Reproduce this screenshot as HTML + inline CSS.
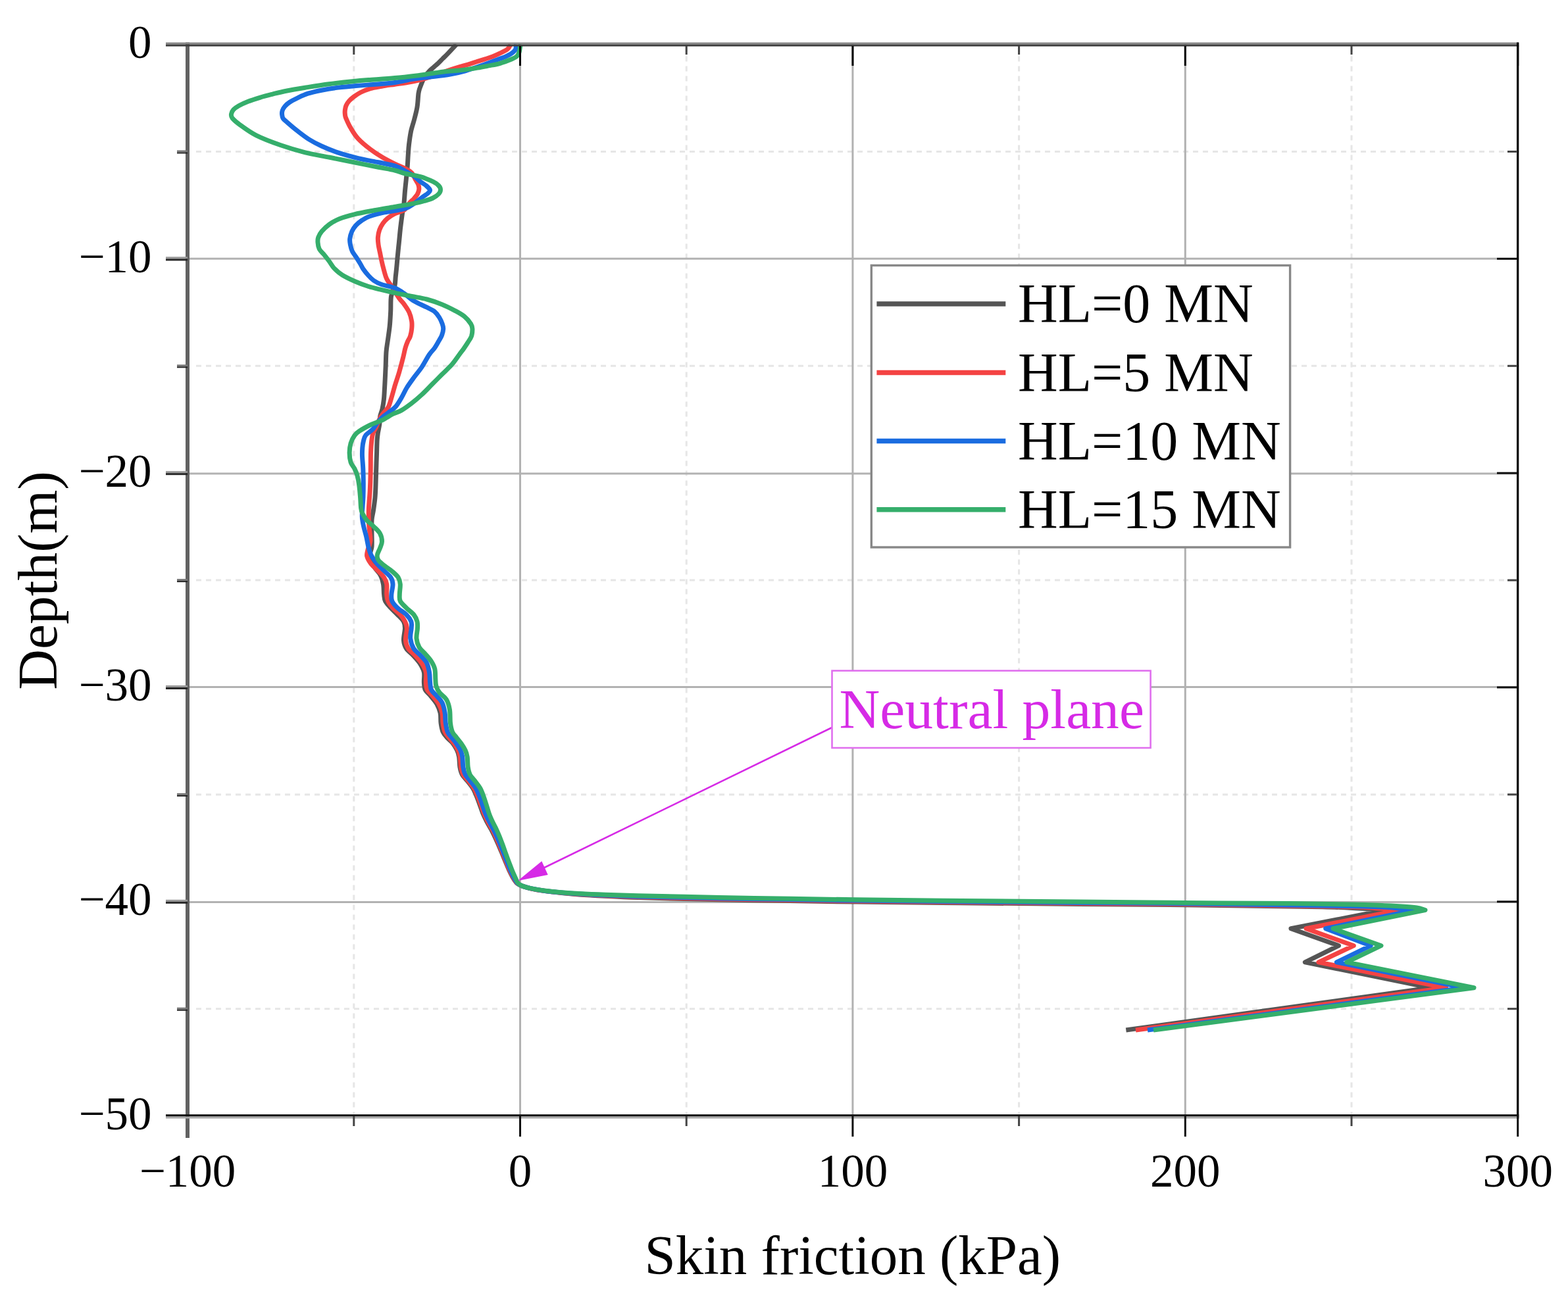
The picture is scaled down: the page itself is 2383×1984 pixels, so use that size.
<!DOCTYPE html>
<html><head><meta charset="utf-8"><title>Skin friction vs depth</title>
<style>html,body{margin:0;padding:0;background:#fff;}svg{display:block;}</style>
</head><body>
<svg width="2383" height="1984" viewBox="0 0 2383 1984">
<rect width="2383" height="1984" fill="#ffffff"/>
<line x1="537.8" y1="70.6" x2="537.8" y2="1693.5" stroke="#e6e6e6" stroke-width="3" stroke-dasharray="8 7"/>
<line x1="1043.2" y1="70.6" x2="1043.2" y2="1693.5" stroke="#e6e6e6" stroke-width="3" stroke-dasharray="8 7"/>
<line x1="1548.6" y1="70.6" x2="1548.6" y2="1693.5" stroke="#e6e6e6" stroke-width="3" stroke-dasharray="8 7"/>
<line x1="2054.0" y1="70.6" x2="2054.0" y2="1693.5" stroke="#e6e6e6" stroke-width="3" stroke-dasharray="8 7"/>
<line x1="298.0" y1="230.5" x2="2303.7" y2="230.5" stroke="#e6e6e6" stroke-width="3" stroke-dasharray="8 7"/>
<line x1="298.0" y1="556.3" x2="2303.7" y2="556.3" stroke="#e6e6e6" stroke-width="3" stroke-dasharray="8 7"/>
<line x1="298.0" y1="882.1" x2="2303.7" y2="882.1" stroke="#e6e6e6" stroke-width="3" stroke-dasharray="8 7"/>
<line x1="298.0" y1="1207.9" x2="2303.7" y2="1207.9" stroke="#e6e6e6" stroke-width="3" stroke-dasharray="8 7"/>
<line x1="298.0" y1="1533.7" x2="2303.7" y2="1533.7" stroke="#e6e6e6" stroke-width="3" stroke-dasharray="8 7"/>
<line x1="790.5" y1="67.6" x2="790.5" y2="1696.5" stroke="#b2b2b2" stroke-width="3"/>
<line x1="1295.9" y1="67.6" x2="1295.9" y2="1696.5" stroke="#b2b2b2" stroke-width="3"/>
<line x1="1801.3" y1="67.6" x2="1801.3" y2="1696.5" stroke="#b2b2b2" stroke-width="3"/>
<line x1="285.0" y1="393.3" x2="2306.7" y2="393.3" stroke="#b2b2b2" stroke-width="3"/>
<line x1="285.0" y1="720.0" x2="2306.7" y2="720.0" stroke="#b2b2b2" stroke-width="3"/>
<line x1="285.0" y1="1044.6" x2="2306.7" y2="1044.6" stroke="#b2b2b2" stroke-width="3"/>
<line x1="285.0" y1="1371.5" x2="2306.7" y2="1371.5" stroke="#b2b2b2" stroke-width="3"/>
<path d="M693.5,67.6 C691.2,70.1 683.0,79.0 679.5,82.6 C676.0,86.2 674.9,87.1 672.6,89.4 C670.3,91.7 668.0,94.2 665.7,96.3 C663.4,98.4 661.0,100.4 658.9,102.3 C656.8,104.2 654.8,105.8 652.9,107.7 C651.0,109.7 649.1,111.9 647.5,114.0 C645.9,116.1 644.7,118.2 643.5,120.5 C642.3,122.8 641.4,125.2 640.5,127.5 C639.6,129.8 638.8,131.6 638.0,134.0 C637.2,136.4 636.7,137.2 636.0,142.0 C635.3,146.8 635.1,156.2 634.0,162.9 C632.9,169.6 631.1,175.8 629.5,182.0 C627.9,188.2 625.8,193.7 624.5,200.0 C623.2,206.3 622.2,214.2 621.5,220.0 C620.8,225.8 620.7,229.4 620.3,235.0 C619.9,240.6 619.6,247.7 619.2,253.3 C618.8,258.9 618.3,262.2 617.7,268.6 C617.1,275.0 616.0,284.5 615.4,291.4 C614.8,298.2 614.5,304.4 613.9,309.7 C613.3,314.9 612.6,316.9 611.7,322.9 C610.8,328.9 609.6,338.1 608.7,345.7 C607.8,353.3 607.2,361.0 606.4,368.6 C605.6,376.2 604.7,384.8 604.1,391.4 C603.5,398.0 603.1,403.4 602.6,408.2 C602.1,413.0 601.8,415.5 601.3,420.0 C600.8,424.5 600.9,430.1 599.8,435.2 C598.7,440.3 595.5,444.1 594.5,450.5 C593.5,456.9 594.1,465.7 593.7,473.3 C593.3,480.9 593.0,488.6 592.2,496.2 C591.4,503.8 590.0,512.5 589.1,519.0 C588.2,525.5 587.5,528.5 587.0,535.0 C586.5,541.5 586.5,549.2 586.1,558.1 C585.7,567.0 585.1,580.4 584.6,588.6 C584.1,596.8 584.0,601.6 583.4,607.1 C582.8,612.6 582.0,617.1 581.1,621.4 C580.2,625.7 578.4,629.0 577.7,632.9 C577.0,636.8 577.4,640.7 576.8,645.0 C576.2,649.3 574.9,654.4 574.3,658.6 C573.7,662.8 573.4,664.8 573.1,670.0 C572.8,675.2 572.7,683.7 572.5,690.0 C572.3,696.3 572.1,700.0 571.9,707.8 C571.6,715.6 571.3,728.8 571.0,736.9 C570.7,745.0 570.6,749.9 570.0,756.4 C569.4,762.9 568.3,770.1 567.5,775.8 C566.7,781.5 565.4,784.5 565.0,790.4 C564.6,796.2 565.0,804.0 565.0,810.9 C565.0,817.8 565.6,825.5 565.0,831.5 C564.4,837.5 560.8,841.9 561.5,847.0 C562.2,852.1 566.3,857.8 569.1,862.4 C571.9,867.0 576.2,870.5 578.4,874.8 C580.6,879.1 581.6,883.4 582.5,888.2 C583.4,893.0 583.1,899.3 583.6,903.6 C584.1,907.9 583.9,910.5 585.6,913.9 C587.3,917.3 590.8,920.8 593.9,924.2 C597.0,927.6 601.0,931.1 604.2,934.5 C607.5,937.9 611.5,941.4 613.4,944.8 C615.3,948.2 615.5,950.2 615.5,955.0 C615.5,959.8 613.1,968.5 613.5,973.7 C613.9,978.9 615.2,982.3 617.6,986.1 C620.0,989.9 624.5,992.6 627.9,996.4 C631.3,1000.2 635.5,1004.4 638.2,1008.7 C641.0,1013.0 643.4,1017.3 644.4,1022.1 C645.4,1026.9 644.1,1033.1 644.4,1037.6 C644.7,1042.1 644.7,1045.5 646.4,1048.9 C648.1,1052.3 651.8,1054.6 654.7,1058.2 C657.6,1061.8 661.6,1066.2 664.0,1070.5 C666.4,1074.8 668.1,1079.1 669.1,1083.9 C670.1,1088.7 669.4,1094.6 670.1,1099.4 C670.8,1104.2 671.6,1109.0 673.2,1112.8 C674.9,1116.6 677.5,1119.1 680.0,1122.0 C682.5,1124.9 686.0,1127.2 688.4,1130.3 C690.8,1133.4 693.0,1137.2 694.6,1140.6 C696.2,1144.0 697.0,1146.6 697.7,1150.9 C698.4,1155.2 698.2,1161.9 699.0,1166.4 C699.8,1170.9 700.6,1174.3 702.5,1177.7 C704.4,1181.1 707.4,1183.6 710.1,1187.0 C712.8,1190.4 716.3,1194.4 718.7,1198.3 C721.1,1202.2 722.7,1206.5 724.4,1210.6 C726.1,1214.7 727.4,1218.7 729.0,1223.0 C730.6,1227.3 732.0,1232.1 733.8,1236.4 C735.6,1240.7 737.6,1244.7 739.7,1248.8 C741.8,1252.9 744.6,1257.4 746.6,1261.1 C748.5,1264.8 749.8,1267.3 751.5,1271.0 C753.3,1274.7 755.2,1279.0 757.1,1283.3 C758.9,1287.6 760.9,1292.2 762.8,1296.7 C764.6,1301.2 766.4,1305.6 768.2,1310.0 C770.1,1314.4 772.1,1319.3 773.9,1323.3 C775.8,1327.3 777.9,1331.4 779.3,1334.0 C780.8,1336.6 781.6,1337.6 782.6,1339.0 C783.6,1340.4 784.3,1341.5 785.5,1342.6 C786.7,1343.7 788.2,1344.6 789.9,1345.4 C791.5,1346.2 792.7,1346.7 795.5,1347.6 C798.3,1348.5 801.5,1349.7 806.7,1350.8 C811.9,1352.0 818.9,1353.3 826.7,1354.4 C834.5,1355.6 844.4,1356.7 853.3,1357.6 C862.2,1358.5 868.9,1359.1 880.0,1359.9 C891.1,1360.7 905.0,1361.5 920.0,1362.3 C935.0,1363.1 950.0,1363.9 970.0,1364.6 C990.0,1365.3 1015.0,1366.0 1040.0,1366.6 C1065.0,1367.2 1093.3,1367.7 1120.0,1368.2 C1146.7,1368.7 1170.0,1369.1 1200.0,1369.6 C1230.0,1370.1 1256.7,1370.6 1300.0,1371.1 C1343.3,1371.6 1403.3,1372.2 1460.0,1372.8 C1516.7,1373.3 1583.3,1373.9 1640.0,1374.4 C1696.7,1374.9 1738.3,1375.1 1800.0,1375.8 C1861.7,1376.5 1966.7,1378.0 2010.0,1378.8 C2053.3,1379.6 2046.7,1380.2 2060.0,1380.8 C2073.3,1381.4 2082.5,1382.1 2090.0,1382.6 C2097.5,1383.1 2102.5,1383.4 2105.0,1383.6 L1962.0,1411.8 L2034.5,1437.7 L1983.4,1462.9 L2174.7,1501.7 L1711.3,1566.0" fill="none" stroke="#555555" stroke-width="7.0" stroke-linejoin="round" stroke-linecap="butt"/>
<path d="M776.0,67.6 C775.2,68.8 774.1,72.4 771.4,74.6 C768.7,76.8 763.8,79.0 760.0,80.9 C756.2,82.8 752.4,84.5 748.6,86.0 C744.8,87.5 740.9,88.6 737.1,89.8 C733.3,91.0 729.5,92.2 725.7,93.4 C721.9,94.6 718.9,95.7 714.3,97.1 C709.6,98.5 702.8,100.3 697.8,101.8 C692.8,103.3 688.9,104.5 684.3,106.0 C679.7,107.5 674.9,109.2 670.0,111.0 C665.1,112.8 660.3,114.8 655.0,116.5 C649.7,118.2 644.1,120.0 638.3,121.5 C632.5,123.0 626.4,124.1 620.0,125.2 C613.6,126.3 606.7,127.2 600.0,128.2 C593.3,129.2 586.2,130.1 580.0,131.2 C573.8,132.3 568.2,133.0 562.9,134.6 C557.6,136.2 552.1,138.4 548.0,140.5 C543.9,142.6 540.9,144.7 538.0,146.9 C535.1,149.1 532.5,151.2 530.5,153.5 C528.5,155.8 527.0,158.2 526.0,160.5 C525.0,162.8 524.7,164.8 524.4,167.0 C524.1,169.2 524.1,171.8 524.4,174.0 C524.6,176.2 524.4,176.5 525.9,180.0 C527.4,183.5 530.0,189.7 533.1,194.8 C536.2,200.0 539.3,205.5 544.3,210.9 C549.3,216.3 556.7,222.3 562.9,227.0 C569.1,231.7 575.2,235.6 581.4,239.3 C587.6,243.0 594.2,246.3 600.0,249.2 C605.8,252.0 611.9,254.1 616.2,256.4 C620.5,258.7 623.5,260.2 626.0,263.0 C628.5,265.8 629.8,270.3 631.4,273.1 C633.0,275.9 634.6,277.6 635.5,280.0 C636.4,282.4 637.0,285.1 636.8,287.6 C636.6,290.1 635.8,292.6 634.5,295.0 C633.2,297.4 631.1,299.7 629.0,302.0 C626.9,304.3 624.4,306.2 622.0,309.0 C619.6,311.8 618.5,316.3 614.8,319.0 C611.0,321.7 603.8,322.9 599.5,325.1 C595.2,327.3 591.8,329.6 588.9,332.0 C586.0,334.4 584.0,336.7 582.0,339.6 C580.0,342.5 578.0,345.9 576.7,349.5 C575.4,353.1 574.7,357.2 574.4,361.0 C574.1,364.8 574.6,368.6 575.1,372.4 C575.6,376.2 576.6,380.0 577.4,383.8 C578.2,387.6 578.8,391.1 579.7,395.2 C580.6,399.3 581.5,403.4 582.8,408.2 C584.1,413.0 585.5,419.3 587.6,423.8 C589.7,428.3 592.0,430.2 595.2,435.2 C598.4,440.1 603.5,448.9 606.7,453.5 C609.9,458.1 611.8,459.1 614.3,462.7 C616.8,466.3 620.0,470.6 621.9,474.9 C623.8,479.2 625.1,484.4 625.7,488.6 C626.3,492.8 626.1,496.2 625.7,500.0 C625.3,503.8 624.4,508.2 623.4,511.4 C622.4,514.6 620.9,516.0 619.6,519.0 C618.3,522.0 616.9,525.7 615.8,529.7 C614.7,533.7 614.3,536.9 612.8,542.9 C611.3,548.9 608.7,558.7 606.7,565.7 C604.7,572.7 602.5,578.4 600.6,584.8 C598.7,591.1 596.9,598.2 595.2,603.8 C593.5,609.4 592.3,614.7 590.3,618.6 C588.3,622.5 585.3,624.6 583.4,627.1 C581.5,629.6 580.4,630.9 578.9,633.4 C577.4,635.9 575.8,639.2 574.5,642.0 C573.2,644.8 572.7,647.2 571.4,650.0 C570.1,652.8 568.0,655.3 566.9,658.6 C565.8,661.9 565.4,665.0 564.8,670.0 C564.2,675.0 563.8,680.4 563.5,688.3 C563.2,696.2 563.4,707.8 563.2,717.5 C563.0,727.2 562.7,737.0 562.2,746.7 C561.7,756.4 560.5,766.8 560.3,775.8 C560.1,784.8 560.4,793.0 560.9,800.6 C561.4,808.2 563.4,815.2 563.0,821.2 C562.6,827.2 559.7,832.6 558.8,836.7 C557.9,840.8 556.9,842.5 557.8,845.9 C558.7,849.3 561.2,853.7 564.0,857.3 C566.8,860.9 571.0,864.2 574.3,867.6 C577.6,871.0 581.4,874.5 583.6,877.9 C585.8,881.3 587.0,883.9 587.7,888.2 C588.4,892.5 587.4,899.3 587.7,903.6 C588.0,907.9 588.2,910.5 589.7,913.9 C591.2,917.3 593.9,920.8 597.0,924.2 C600.1,927.6 605.2,931.1 608.3,934.5 C611.4,937.9 613.8,941.4 615.5,944.8 C617.2,948.2 618.3,950.2 618.5,955.0 C618.7,959.8 616.1,968.5 616.5,973.7 C616.9,978.9 618.2,982.3 620.6,986.1 C623.0,989.9 627.5,992.6 630.9,996.4 C634.3,1000.2 638.5,1004.4 641.2,1008.7 C644.0,1013.0 646.4,1017.3 647.4,1022.1 C648.4,1026.9 647.1,1033.1 647.4,1037.6 C647.7,1042.1 647.7,1045.5 649.4,1048.9 C651.1,1052.3 654.8,1054.6 657.7,1058.2 C660.6,1061.8 664.6,1066.2 667.0,1070.5 C669.4,1074.8 671.1,1079.1 672.1,1083.9 C673.1,1088.7 672.4,1094.6 673.1,1099.4 C673.8,1104.2 674.6,1109.0 676.2,1112.8 C677.9,1116.6 680.7,1119.1 683.0,1122.0 C685.3,1124.9 687.7,1127.2 689.9,1130.3 C692.1,1133.4 694.5,1137.2 696.1,1140.6 C697.7,1144.0 698.5,1146.6 699.2,1150.9 C699.9,1155.2 699.7,1161.9 700.5,1166.4 C701.3,1170.9 702.1,1174.3 704.0,1177.7 C705.9,1181.1 708.9,1183.6 711.6,1187.0 C714.3,1190.4 717.8,1194.4 720.2,1198.3 C722.6,1202.2 724.2,1206.5 725.9,1210.6 C727.6,1214.7 728.9,1218.7 730.5,1223.0 C732.1,1227.3 733.5,1232.1 735.3,1236.4 C737.1,1240.7 739.1,1244.7 741.2,1248.8 C743.3,1252.9 746.1,1257.4 748.1,1261.1 C750.0,1264.8 751.2,1267.3 752.9,1271.0 C754.6,1274.7 756.4,1279.0 758.3,1283.3 C760.1,1287.6 762.0,1292.2 763.8,1296.7 C765.6,1301.2 767.3,1305.6 769.1,1310.0 C770.9,1314.4 772.9,1319.3 774.7,1323.3 C776.5,1327.3 778.5,1331.4 779.9,1334.0 C781.4,1336.6 782.2,1337.6 783.2,1339.0 C784.2,1340.4 784.8,1341.5 786.0,1342.6 C787.1,1343.7 788.4,1344.6 790.0,1345.4 C791.6,1346.2 792.7,1346.7 795.5,1347.6 C798.3,1348.5 801.5,1349.7 806.7,1350.8 C811.9,1351.9 818.9,1353.2 826.7,1354.3 C834.5,1355.4 844.4,1356.4 853.3,1357.3 C862.2,1358.2 868.9,1358.8 880.0,1359.5 C891.1,1360.2 905.0,1361.0 920.0,1361.7 C935.0,1362.4 950.0,1363.1 970.0,1363.8 C990.0,1364.4 1015.0,1365.0 1040.0,1365.6 C1065.0,1366.2 1093.3,1366.7 1120.0,1367.2 C1146.7,1367.7 1170.0,1368.1 1200.0,1368.6 C1230.0,1369.1 1256.7,1369.6 1300.0,1370.1 C1343.3,1370.6 1403.3,1371.2 1460.0,1371.8 C1516.7,1372.3 1583.3,1372.9 1640.0,1373.4 C1696.7,1373.9 1733.3,1374.0 1800.0,1374.8 C1866.7,1375.6 1990.8,1377.4 2040.0,1378.4 C2089.2,1379.4 2080.5,1380.1 2095.0,1381.0 C2109.5,1381.9 2121.7,1383.2 2127.0,1383.6 L1985.0,1411.8 L2057.3,1437.7 L2004.0,1462.9 L2197.5,1501.7 L1726.0,1566.0" fill="none" stroke="#f44343" stroke-width="7.0" stroke-linejoin="round" stroke-linecap="butt"/>
<path d="M784.6,67.6 C784.4,68.9 784.5,73.2 783.3,75.5 C782.0,77.8 779.5,79.7 777.1,81.4 C774.7,83.2 771.9,84.5 768.6,86.0 C765.3,87.5 762.7,88.2 757.1,90.3 C751.5,92.4 743.3,95.6 735.0,98.5 C726.7,101.4 715.6,105.4 707.1,107.8 C698.6,110.2 693.2,111.4 684.0,113.0 C674.8,114.6 661.5,116.0 652.0,117.2 C642.5,118.4 635.8,118.9 627.1,120.3 C618.4,121.7 609.5,124.2 600.0,125.5 C590.5,126.8 580.3,127.3 570.0,128.2 C559.7,129.1 548.0,129.9 538.0,130.8 C528.0,131.7 518.2,132.5 510.0,133.6 C501.8,134.7 495.6,135.8 488.6,137.2 C481.6,138.6 474.2,140.2 468.0,142.2 C461.8,144.2 456.1,147.1 451.4,149.3 C446.7,151.5 443.1,153.4 440.0,155.5 C436.9,157.6 434.7,159.6 432.9,161.7 C431.1,163.8 429.9,165.9 429.2,168.0 C428.5,170.1 428.4,172.0 428.6,174.0 C428.8,176.0 428.9,178.2 430.2,180.2 C431.5,182.2 433.1,183.0 436.6,186.1 C440.1,189.2 445.8,194.2 451.4,198.5 C457.0,202.8 463.8,208.2 470.0,212.1 C476.2,216.0 481.4,218.7 488.6,222.0 C495.8,225.3 504.0,228.8 513.3,231.9 C522.6,235.0 534.0,238.1 544.3,240.6 C554.6,243.1 565.9,244.9 575.2,246.8 C584.5,248.7 593.4,250.1 600.0,252.2 C606.6,254.3 610.3,257.0 615.0,259.5 C619.7,262.0 624.0,264.2 628.0,267.0 C632.0,269.8 635.7,273.6 639.0,276.2 C642.3,278.8 645.6,280.4 648.0,282.5 C650.4,284.6 653.2,287.1 653.5,289.1 C653.8,291.1 651.3,292.9 649.5,294.5 C647.7,296.1 646.1,296.6 642.9,299.0 C639.6,301.4 634.7,305.9 630.0,309.0 C625.3,312.1 622.4,315.2 614.8,317.5 C607.2,319.8 593.2,321.0 584.3,322.9 C575.4,324.8 567.1,327.0 561.4,329.0 C555.7,331.0 553.4,332.7 550.0,335.0 C546.6,337.3 543.4,339.9 540.9,342.7 C538.4,345.5 536.3,348.4 534.8,351.8 C533.3,355.2 532.1,359.8 531.7,363.2 C531.3,366.6 531.9,369.2 532.5,372.4 C533.1,375.6 534.0,379.1 535.5,382.3 C537.0,385.5 539.6,388.2 541.6,391.4 C543.6,394.6 546.1,398.5 547.7,401.3 C549.4,404.1 549.5,405.2 551.5,408.2 C553.5,411.1 557.2,415.9 560.0,419.0 C562.8,422.1 564.7,424.2 568.0,426.5 C571.3,428.8 574.7,430.6 580.0,432.5 C585.3,434.4 594.3,435.6 600.0,437.8 C605.7,440.1 609.3,442.8 614.0,446.0 C618.7,449.2 622.2,453.5 628.0,457.0 C633.8,460.5 643.3,464.5 648.6,467.2 C653.9,469.9 656.8,470.8 660.0,473.3 C663.2,475.9 665.6,479.3 667.6,482.5 C669.6,485.7 671.2,489.5 672.2,492.4 C673.2,495.3 673.8,497.1 673.7,500.0 C673.6,502.9 672.6,506.7 671.4,509.9 C670.2,513.1 668.4,515.7 666.5,519.0 C664.6,522.3 662.4,526.4 660.0,529.7 C657.6,533.0 655.6,534.3 652.4,539.0 C649.2,543.7 644.8,552.4 641.0,558.1 C637.2,563.8 633.2,568.1 629.5,573.3 C625.8,578.4 621.7,583.9 618.5,589.0 C615.3,594.1 613.3,599.2 610.5,604.0 C607.7,608.8 604.7,614.2 601.5,618.0 C598.3,621.8 594.5,624.0 591.4,626.5 C588.3,629.0 585.8,630.3 582.9,632.9 C580.0,635.5 576.7,638.7 574.0,642.0 C571.3,645.3 569.5,649.5 566.5,652.7 C563.5,655.9 558.3,658.5 556.0,661.4 C553.7,664.3 553.4,666.7 552.5,670.0 C551.6,673.3 551.1,677.1 550.8,681.0 C550.5,684.9 550.3,687.9 550.5,693.2 C550.7,698.5 551.5,705.6 551.8,712.6 C552.1,719.6 552.3,727.9 552.3,735.0 C552.3,742.1 552.2,749.0 552.0,755.0 C551.8,761.0 551.3,765.8 551.0,771.0 C550.7,776.2 550.0,781.1 550.3,786.0 C550.6,790.9 551.6,795.6 552.7,800.6 C553.8,805.6 555.6,811.0 556.8,816.1 C558.0,821.2 558.7,826.9 559.9,831.5 C561.1,836.1 561.8,839.6 564.0,843.9 C566.2,848.2 570.0,853.3 573.3,857.3 C576.6,861.2 580.2,864.2 583.6,867.6 C587.0,871.0 591.7,874.5 593.9,877.9 C596.1,881.3 596.8,883.9 597.0,888.2 C597.2,892.5 595.1,899.3 594.9,903.6 C594.7,907.9 594.3,910.5 595.9,913.9 C597.5,917.3 600.6,920.8 604.2,924.2 C607.8,927.6 614.2,931.1 617.6,934.5 C621.0,937.9 623.5,941.4 624.8,944.8 C626.1,948.2 625.4,950.7 625.2,955.0 C625.0,959.3 623.1,965.4 623.7,970.6 C624.3,975.8 626.2,981.8 628.8,986.1 C631.4,990.4 635.8,992.8 639.1,996.4 C642.4,1000.0 646.2,1003.4 648.4,1007.7 C650.6,1012.0 651.6,1017.1 652.5,1022.1 C653.4,1027.1 653.1,1033.1 653.6,1037.6 C654.1,1042.1 653.9,1045.5 655.6,1048.9 C657.3,1052.3 661.1,1054.9 663.9,1058.2 C666.6,1061.5 670.0,1064.2 672.1,1068.5 C674.2,1072.8 675.3,1078.8 676.2,1083.9 C677.1,1089.1 676.6,1094.6 677.3,1099.4 C678.0,1104.2 678.7,1109.0 680.3,1112.8 C681.9,1116.6 684.8,1119.1 687.0,1122.0 C689.2,1124.9 691.5,1127.2 693.6,1130.3 C695.8,1133.4 698.2,1137.2 699.8,1140.6 C701.3,1144.0 702.1,1146.6 702.8,1150.9 C703.5,1155.2 703.1,1161.9 703.9,1166.4 C704.6,1170.9 705.4,1174.3 707.2,1177.7 C709.0,1181.1 712.0,1183.6 714.6,1187.0 C717.3,1190.4 720.8,1194.4 723.1,1198.3 C725.4,1202.2 727.0,1206.5 728.6,1210.6 C730.3,1214.7 731.5,1218.7 733.0,1223.0 C734.5,1227.3 735.9,1232.1 737.6,1236.4 C739.4,1240.7 741.3,1244.7 743.3,1248.8 C745.4,1252.9 748.1,1257.4 750.0,1261.1 C751.9,1264.8 753.1,1267.3 754.7,1271.0 C756.4,1274.7 758.2,1279.0 759.9,1283.3 C761.7,1287.6 763.5,1292.2 765.3,1296.7 C767.0,1301.2 768.7,1305.6 770.5,1310.0 C772.3,1314.4 774.2,1319.3 775.9,1323.3 C777.7,1327.3 779.6,1331.4 781.0,1334.0 C782.3,1336.6 783.0,1337.6 783.9,1339.0 C784.8,1340.4 785.4,1341.5 786.4,1342.6 C787.5,1343.7 788.7,1344.6 790.2,1345.4 C791.7,1346.2 792.7,1346.7 795.5,1347.6 C798.3,1348.5 801.5,1349.6 806.7,1350.7 C811.9,1351.8 818.9,1353.1 826.7,1354.2 C834.5,1355.2 844.4,1356.2 853.3,1357.0 C862.2,1357.9 868.9,1358.4 880.0,1359.1 C891.1,1359.8 905.0,1360.4 920.0,1361.1 C935.0,1361.7 950.0,1362.3 970.0,1362.9 C990.0,1363.5 1015.0,1364.1 1040.0,1364.6 C1065.0,1365.1 1093.3,1365.7 1120.0,1366.2 C1146.7,1366.7 1170.0,1367.1 1200.0,1367.6 C1230.0,1368.1 1256.7,1368.6 1300.0,1369.1 C1343.3,1369.6 1403.3,1370.2 1460.0,1370.8 C1516.7,1371.3 1583.3,1371.9 1640.0,1372.4 C1696.7,1372.9 1728.3,1372.9 1800.0,1373.8 C1871.7,1374.7 2015.8,1376.7 2070.0,1377.9 C2124.2,1379.1 2111.7,1380.0 2125.0,1380.9 C2138.3,1381.9 2145.8,1383.1 2150.0,1383.6 L2014.7,1411.8 L2083.2,1437.7 L2031.4,1462.9 L2226.5,1501.7 L1744.0,1566.0" fill="none" stroke="#1a6ce0" stroke-width="7.0" stroke-linejoin="round" stroke-linecap="butt"/>
<path d="M791.5,67.6 C791.3,68.2 790.9,69.5 790.5,71.5 C790.1,73.5 789.8,77.2 789.0,79.5 C788.2,81.8 787.3,83.8 785.5,85.5 C783.7,87.2 782.2,88.0 778.0,89.8 C773.8,91.6 765.9,94.6 760.0,96.3 C754.1,98.0 748.6,98.8 742.9,99.9 C737.2,101.0 731.7,102.1 725.7,103.1 C719.7,104.1 712.6,105.2 706.9,105.9 C701.2,106.7 696.7,107.1 691.4,107.6 C686.1,108.1 681.0,108.2 674.9,108.9 C668.8,109.6 661.0,110.9 655.0,111.8 C649.0,112.7 647.8,113.2 638.6,114.3 C629.4,115.4 613.1,117.4 600.0,118.6 C586.9,119.8 570.3,120.8 560.0,121.6 C549.7,122.4 548.0,122.5 538.0,123.5 C528.0,124.5 512.4,126.2 500.0,127.8 C487.6,129.4 474.6,131.5 463.8,133.2 C453.0,134.9 443.2,136.5 435.0,138.2 C426.8,139.8 421.0,141.4 414.3,143.1 C407.6,144.8 401.2,146.4 395.0,148.3 C388.8,150.2 382.4,152.2 377.1,154.3 C371.8,156.4 366.7,158.7 363.0,160.8 C359.3,162.9 356.8,164.6 354.9,166.7 C353.0,168.8 351.9,171.0 351.6,173.1 C351.3,175.2 350.8,176.7 353.0,179.5 C355.2,182.3 358.7,185.4 364.8,189.8 C370.9,194.2 379.2,200.7 389.5,205.9 C399.8,211.1 414.3,216.5 426.7,220.8 C439.1,225.1 451.4,228.8 463.8,231.9 C476.2,235.0 488.6,236.8 501.0,239.3 C513.4,241.8 525.7,244.3 538.1,246.8 C550.5,249.3 564.9,252.2 575.2,254.2 C585.5,256.2 593.2,257.4 600.0,259.0 C606.8,260.6 609.7,262.4 616.2,264.0 C622.7,265.6 632.0,266.6 639.0,268.6 C646.0,270.6 653.5,274.0 658.1,276.2 C662.7,278.4 664.6,280.0 666.5,282.0 C668.4,284.0 669.5,286.2 669.5,288.4 C669.5,290.6 668.4,292.9 666.5,295.0 C664.6,297.1 661.6,299.2 658.0,301.0 C654.4,302.8 649.7,304.1 645.0,305.5 C640.3,306.9 637.6,307.6 630.0,309.1 C622.4,310.6 609.7,312.7 599.5,314.5 C589.3,316.3 579.1,317.9 569.0,319.8 C558.9,321.7 547.5,323.7 538.6,325.9 C529.7,328.1 522.1,330.3 515.7,332.8 C509.4,335.3 504.9,337.9 500.5,341.1 C496.1,344.3 491.8,348.5 489.0,351.8 C486.2,355.1 484.7,358.2 483.7,361.0 C482.7,363.8 482.8,365.7 483.0,368.6 C483.2,371.5 483.6,375.3 485.2,378.5 C486.8,381.7 490.3,384.4 492.9,387.6 C495.4,390.8 498.0,394.1 500.5,397.5 C503.0,400.9 504.9,404.8 508.1,408.2 C511.4,411.6 514.7,414.7 520.0,418.0 C525.3,421.3 533.3,425.1 540.0,428.0 C546.7,430.9 553.3,433.4 560.0,435.5 C566.7,437.6 572.9,438.9 580.0,440.6 C587.1,442.3 595.3,444.2 602.9,445.9 C610.5,447.5 618.1,449.0 625.7,450.5 C633.3,452.0 641.0,453.0 648.6,455.0 C656.2,457.0 664.4,459.9 671.4,462.7 C678.4,465.5 684.8,468.8 690.5,471.8 C696.2,474.9 701.5,477.6 705.7,481.0 C709.9,484.4 713.6,489.2 715.6,492.4 C717.6,495.6 717.8,496.8 717.9,500.0 C718.0,503.2 717.5,508.0 716.4,511.4 C715.2,514.8 712.9,517.5 711.0,520.6 C709.1,523.7 707.1,526.6 705.0,529.7 C702.9,532.8 701.1,534.9 698.1,539.0 C695.1,543.1 691.2,549.2 686.7,554.3 C682.2,559.4 676.5,564.4 671.4,569.5 C666.3,574.6 661.3,579.7 656.2,584.8 C651.1,589.9 646.1,595.3 641.0,600.0 C635.9,604.7 630.8,609.1 625.7,613.0 C620.6,616.9 615.3,620.9 610.5,623.6 C605.7,626.4 602.1,626.9 597.0,629.5 C591.9,632.1 585.7,636.4 580.0,639.1 C574.3,641.9 568.6,643.2 562.9,646.0 C557.2,648.8 549.7,653.0 545.7,655.7 C541.7,658.4 541.0,659.0 538.9,662.0 C536.8,665.0 534.4,669.3 533.1,673.7 C531.8,678.1 531.1,683.4 531.1,688.3 C531.1,693.2 531.8,698.8 533.1,702.9 C534.4,707.0 537.3,709.4 538.9,712.6 C540.5,715.9 541.7,718.4 542.8,722.4 C543.9,726.4 544.9,731.2 545.7,736.9 C546.5,742.6 547.1,750.5 547.6,756.4 C548.1,762.2 548.1,768.1 548.6,772.0 C549.1,775.9 549.2,777.0 550.6,780.0 C552.0,783.0 553.9,786.9 556.8,790.3 C559.7,793.7 564.7,797.2 568.1,800.6 C571.5,804.0 575.3,807.1 577.4,810.9 C579.5,814.7 580.5,819.5 580.5,823.3 C580.5,827.1 578.6,830.2 577.4,833.6 C576.2,837.0 573.6,840.8 573.3,843.9 C572.9,847.0 573.4,849.4 575.3,852.1 C577.2,854.8 581.2,857.5 584.6,860.3 C588.0,863.0 592.5,865.7 595.9,868.6 C599.3,871.5 603.1,874.6 605.2,877.9 C607.3,881.2 607.9,883.9 608.3,888.2 C608.6,892.5 607.3,899.3 607.3,903.6 C607.3,907.9 606.6,910.5 608.3,913.9 C610.0,917.3 614.2,920.8 617.6,924.2 C621.0,927.6 626.2,931.1 628.9,934.5 C631.6,937.9 633.1,941.4 634.0,944.8 C634.9,948.2 634.7,950.7 634.5,955.0 C634.3,959.3 632.6,965.8 633.0,970.6 C633.4,975.4 634.9,980.0 637.1,984.0 C639.3,988.0 643.3,990.7 646.4,994.3 C649.5,997.9 653.2,1001.8 655.6,1005.6 C658.0,1009.4 659.8,1012.5 660.8,1017.0 C661.8,1021.5 661.5,1028.1 661.8,1032.4 C662.1,1036.7 661.8,1039.3 662.8,1042.7 C663.8,1046.1 665.4,1049.6 668.0,1053.0 C670.6,1056.4 675.7,1059.0 678.3,1063.3 C680.9,1067.6 682.4,1072.8 683.4,1078.8 C684.4,1084.8 683.8,1093.7 684.5,1099.4 C685.2,1105.1 686.0,1109.1 687.6,1112.8 C689.2,1116.5 691.8,1118.6 694.0,1121.5 C696.2,1124.4 698.7,1127.1 700.9,1130.3 C703.1,1133.5 705.5,1137.2 707.1,1140.6 C708.7,1144.0 709.5,1146.6 710.2,1150.9 C710.9,1155.2 710.5,1161.9 711.2,1166.4 C711.9,1170.9 712.6,1174.3 714.3,1177.7 C716.0,1181.1 718.9,1183.6 721.5,1187.0 C724.1,1190.4 727.5,1194.4 729.7,1198.3 C731.9,1202.2 733.4,1206.5 734.9,1210.6 C736.4,1214.7 737.6,1218.7 739.0,1223.0 C740.4,1227.3 741.6,1232.1 743.1,1236.4 C744.6,1240.7 746.4,1244.7 748.3,1248.8 C750.2,1252.9 752.8,1257.4 754.5,1261.1 C756.2,1264.8 757.3,1267.3 758.8,1271.0 C760.3,1274.7 761.9,1279.0 763.5,1283.3 C765.1,1287.6 766.7,1292.2 768.3,1296.7 C769.9,1301.2 771.5,1305.6 773.2,1310.0 C774.9,1314.4 776.7,1319.3 778.3,1323.3 C779.9,1327.3 781.8,1331.4 783.0,1334.0 C784.2,1336.6 784.6,1337.6 785.3,1339.0 C786.0,1340.4 786.4,1341.5 787.3,1342.6 C788.2,1343.7 789.1,1344.6 790.5,1345.4 C791.9,1346.2 792.8,1346.7 795.5,1347.6 C798.2,1348.5 801.5,1349.6 806.7,1350.7 C811.9,1351.8 818.9,1353.0 826.7,1354.0 C834.5,1355.0 844.4,1355.9 853.3,1356.7 C862.2,1357.5 868.9,1358.0 880.0,1358.6 C891.1,1359.2 905.0,1359.8 920.0,1360.3 C935.0,1360.8 950.0,1361.3 970.0,1361.8 C990.0,1362.3 1015.0,1362.8 1040.0,1363.3 C1065.0,1363.8 1093.3,1364.4 1120.0,1364.9 C1146.7,1365.4 1170.0,1365.8 1200.0,1366.3 C1230.0,1366.8 1256.7,1367.3 1300.0,1367.8 C1343.3,1368.3 1403.3,1369.0 1460.0,1369.5 C1516.7,1370.0 1583.3,1370.6 1640.0,1371.1 C1696.7,1371.6 1746.7,1372.1 1800.0,1372.5 C1853.3,1372.9 1918.2,1373.2 1960.0,1373.6 C2001.8,1374.0 2028.5,1374.5 2051.0,1375.0 C2073.5,1375.5 2081.8,1375.8 2095.0,1376.3 C2108.2,1376.8 2120.3,1377.4 2130.0,1378.0 C2139.7,1378.6 2147.0,1379.1 2153.0,1380.0 C2159.0,1380.9 2163.8,1383.0 2166.0,1383.6 L2026.0,1411.8 L2099.0,1437.7 L2046.7,1462.9 L2240.0,1501.7 L1753.0,1566.0" fill="none" stroke="#35ae6b" stroke-width="7.0" stroke-linejoin="round" stroke-linecap="butt"/>
<rect x="282" y="64.5" width="6" height="1665.5" fill="#626262"/>
<rect x="252" y="64.5" width="2056.3" height="3" fill="#868686"/>
<rect x="252" y="67.5" width="2056.3" height="3" fill="#3c3c3c"/>
<rect x="2305" y="64.5" width="3.3" height="1636.1" fill="#000000"/>
<rect x="252" y="1694.2" width="2056.3" height="3.3" fill="#111111"/>
<rect x="252" y="1697.5" width="2056.3" height="3" fill="#aaaaaa"/>
<rect x="252" y="390.4" width="33" height="3" fill="#999999"/>
<rect x="252" y="393.4" width="33" height="3" fill="#262626"/>
<rect x="252" y="716.2" width="33" height="3" fill="#999999"/>
<rect x="252" y="719.2" width="33" height="3" fill="#262626"/>
<rect x="252" y="1042.0" width="33" height="3" fill="#999999"/>
<rect x="252" y="1045.0" width="33" height="3" fill="#262626"/>
<rect x="252" y="1367.8" width="33" height="3" fill="#999999"/>
<rect x="252" y="1370.8" width="33" height="3" fill="#262626"/>
<rect x="269" y="228.5" width="16" height="3" fill="#777777"/>
<rect x="269" y="231.5" width="16" height="2" fill="#222222"/>
<rect x="269" y="554.3" width="16" height="3" fill="#777777"/>
<rect x="269" y="557.3" width="16" height="2" fill="#222222"/>
<rect x="269" y="880.1" width="16" height="3" fill="#777777"/>
<rect x="269" y="883.1" width="16" height="2" fill="#222222"/>
<rect x="269" y="1205.9" width="16" height="3" fill="#777777"/>
<rect x="269" y="1208.9" width="16" height="2" fill="#222222"/>
<rect x="269" y="1531.7" width="16" height="3" fill="#777777"/>
<rect x="269" y="1534.7" width="16" height="2" fill="#222222"/>
<rect x="789.0" y="1697" width="3" height="31" fill="#111111"/>
<rect x="789.0" y="70" width="3" height="30" fill="#000000"/>
<rect x="1294.4" y="1697" width="3" height="31" fill="#111111"/>
<rect x="1294.4" y="70" width="3" height="30" fill="#000000"/>
<rect x="1799.8" y="1697" width="3" height="31" fill="#111111"/>
<rect x="1799.8" y="70" width="3" height="30" fill="#000000"/>
<rect x="2305.2" y="1697" width="3" height="31" fill="#111111"/>
<rect x="2305.2" y="70" width="3" height="30" fill="#000000"/>
<rect x="536.3" y="1697" width="3" height="15" fill="#444444"/>
<rect x="536.3" y="70" width="3" height="13" fill="#444444"/>
<rect x="1041.7" y="1697" width="3" height="15" fill="#444444"/>
<rect x="1041.7" y="70" width="3" height="13" fill="#444444"/>
<rect x="1547.1" y="1697" width="3" height="15" fill="#444444"/>
<rect x="1547.1" y="70" width="3" height="13" fill="#444444"/>
<rect x="2052.5" y="1697" width="3" height="15" fill="#444444"/>
<rect x="2052.5" y="70" width="3" height="13" fill="#444444"/>
<rect x="2275" y="391.9" width="31" height="3" fill="#111111"/>
<rect x="2275" y="717.7" width="31" height="3" fill="#111111"/>
<rect x="2275" y="1043.5" width="31" height="3" fill="#111111"/>
<rect x="2275" y="1369.3" width="31" height="3" fill="#111111"/>
<rect x="2291" y="229.0" width="15" height="3" fill="#444444"/>
<rect x="2291" y="554.8" width="15" height="3" fill="#444444"/>
<rect x="2291" y="880.6" width="15" height="3" fill="#444444"/>
<rect x="2291" y="1206.4" width="15" height="3" fill="#444444"/>
<rect x="2291" y="1532.2" width="15" height="3" fill="#444444"/>
<text x="230.5" y="87.9" font-family="'Liberation Serif',serif" font-size="71" text-anchor="end" fill="#000">0</text>
<text x="230.5" y="413.7" font-family="'Liberation Serif',serif" font-size="71" text-anchor="end" fill="#000">−10</text>
<text x="230.5" y="739.5" font-family="'Liberation Serif',serif" font-size="71" text-anchor="end" fill="#000">−20</text>
<text x="230.5" y="1065.3" font-family="'Liberation Serif',serif" font-size="71" text-anchor="end" fill="#000">−30</text>
<text x="230.5" y="1391.1" font-family="'Liberation Serif',serif" font-size="71" text-anchor="end" fill="#000">−40</text>
<text x="230.5" y="1716.9" font-family="'Liberation Serif',serif" font-size="71" text-anchor="end" fill="#000">−50</text>
<text x="285.1" y="1804" font-family="'Liberation Serif',serif" font-size="71" text-anchor="middle" fill="#000">−100</text>
<text x="790.5" y="1804" font-family="'Liberation Serif',serif" font-size="71" text-anchor="middle" fill="#000">0</text>
<text x="1295.9" y="1804" font-family="'Liberation Serif',serif" font-size="71" text-anchor="middle" fill="#000">100</text>
<text x="1801.3" y="1804" font-family="'Liberation Serif',serif" font-size="71" text-anchor="middle" fill="#000">200</text>
<text x="2306.7" y="1804" font-family="'Liberation Serif',serif" font-size="71" text-anchor="middle" fill="#000">300</text>
<text x="1295.8" y="1937" font-family="'Liberation Serif',serif" font-size="85" text-anchor="middle" fill="#000">Skin friction (kPa)</text>
<text transform="translate(86,882.5) rotate(-90)" x="0" y="0" font-family="'Liberation Serif',serif" font-size="85.5" text-anchor="middle" fill="#000">Depth(m)</text>
<rect x="1324.3" y="403.5" width="636.3" height="428.5" fill="#ffffff" stroke="#888888" stroke-width="3.4"/>
<line x1="1332.4" y1="462.0" x2="1528.3" y2="462.0" stroke="#555555" stroke-width="7.5"/>
<text x="1547" y="490.4" font-family="'Liberation Serif',serif" font-size="84" fill="#000">HL=0 MN</text>
<line x1="1332.4" y1="566.5" x2="1528.3" y2="566.5" stroke="#f44343" stroke-width="7.5"/>
<text x="1547" y="594.7" font-family="'Liberation Serif',serif" font-size="84" fill="#000">HL=5 MN</text>
<line x1="1332.4" y1="670.5" x2="1528.3" y2="670.5" stroke="#1a6ce0" stroke-width="7.5"/>
<text x="1547" y="699.3" font-family="'Liberation Serif',serif" font-size="84" fill="#000">HL=10 MN</text>
<line x1="1332.4" y1="774.7" x2="1528.3" y2="774.7" stroke="#35ae6b" stroke-width="7.5"/>
<text x="1547" y="802.9" font-family="'Liberation Serif',serif" font-size="84" fill="#000">HL=15 MN</text>
<line x1="1264.5" y1="1106" x2="815" y2="1325" stroke="#d62ae6" stroke-width="2.6"/>
<polygon points="787,1339 823.3,1309.3 832.7,1330" fill="#d62ae6"/>
<rect x="1264.5" y="1019.7" width="484.1" height="117.3" fill="#ffffff" stroke="#e070ee" stroke-width="2.6"/>
<text x="1275.5" y="1107.3" font-family="'Liberation Serif',serif" font-size="85.6" fill="#d62ae6">Neutral plane</text>
</svg>
</body></html>
